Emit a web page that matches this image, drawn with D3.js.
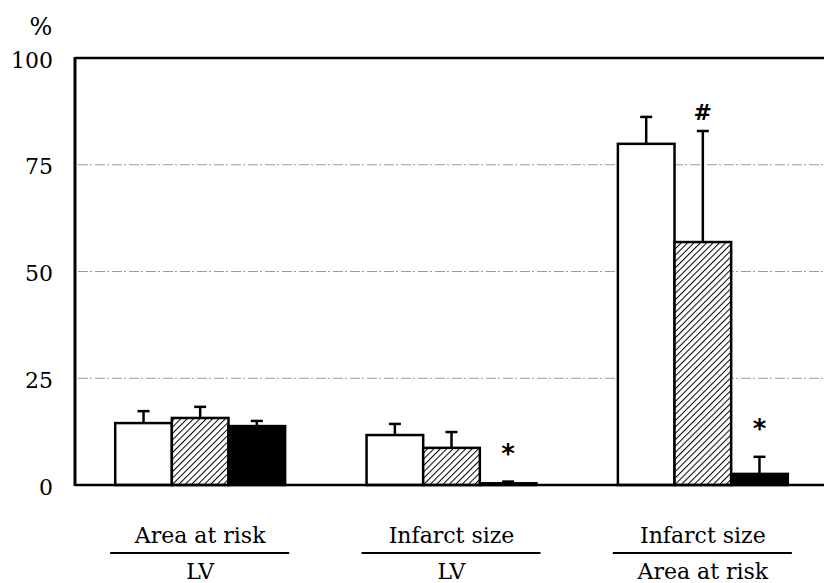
<!DOCTYPE html>
<html><head><meta charset="utf-8">
<script src="https://cdn.jsdelivr.net/npm/d3@7"></script>
<style>body{margin:0;background:#fff}svg{display:block}</style>
</head><body>
<svg id="c" width="824" height="583"></svg>
<script>
const groups = ["g1", "g2", "g3"];
const topLabels = ["Area at risk", "Infarct size", "Infarct size"];
const bottomLabels = ["LV", "LV", "Area at risk"];
const series = ["open", "hatched", "solid"];
const means = [[14.5, 15.7, 13.8], [11.7, 8.7, 0.4], [79.9, 56.9, 2.6]];
const errors = [[2.8, 2.6, 1.2], [2.6, 3.7, 0.4], [6.3, 26.0, 4.0]];
const marks = [["", "", ""], ["", "", "*"], ["", "#", "*"]];
const yTicks = [0, 25, 50, 75, 100];
const gridTicks = [25, 50, 75];

const svg = d3.select("#c");
const y = d3.scaleLinear().domain([0, 100]).range([485, 58]);
const x0 = d3.scaleBand().domain(groups).range([75, 828]).paddingInner(0.324).paddingOuter(0.16);
const x1 = d3.scaleBand().domain(series).range([0, x0.bandwidth()]);

const defs = svg.append("defs");
const pat = defs.append("pattern").attr("id", "hatch").attr("patternUnits", "userSpaceOnUse")
  .attr("width", 4.5).attr("height", 4.5).attr("patternTransform", "rotate(45)");
pat.append("rect").attr("width", 4.5).attr("height", 4.5).attr("fill", "#fff");
pat.append("line").attr("x1", 0).attr("y1", 0).attr("x2", 0).attr("y2", 4.5)
  .attr("stroke", "#000").attr("stroke-width", 2);

const fills = {open: "#fff", hatched: "url(#hatch)", solid: "#000"};
const serif = "DejaVu Serif, Liberation Serif, serif";

// gridlines
svg.append("g").selectAll("line").data(gridTicks).join("line")
  .attr("x1", 78).attr("x2", 824).attr("y1", d => y(d)).attr("y2", d => y(d))
  .attr("stroke", "#9a9a9a").attr("stroke-width", 1).attr("stroke-dasharray", "10 2 2 3");

// y axis
const yAxis = d3.axisLeft(y).tickValues(yTicks).tickSize(0).tickPadding(22);
const ga = svg.append("g").attr("transform", "translate(75,2)").call(yAxis);
ga.select(".domain").remove();
ga.selectAll("text").attr("font-family", serif).attr("font-size", 22).attr("fill", "#000");

svg.append("text").attr("x", 41).attr("y", 35).attr("text-anchor", "middle")
  .attr("font-family", serif).attr("font-size", 24).text("%");

// frame lines
svg.append("line").attr("x1", 75).attr("x2", 824).attr("y1", y(100)).attr("y2", y(100))
  .attr("stroke", "#000").attr("stroke-width", 2.5);
svg.append("line").attr("x1", 75).attr("x2", 75).attr("y1", y(100) - 1).attr("y2", y(0) + 1)
  .attr("stroke", "#000").attr("stroke-width", 3);

// bars
const gg = svg.append("g").selectAll("g").data(groups).join("g")
  .attr("transform", d => `translate(${x0(d)},0)`);
gg.each(function(g, gi) {
  const sel = d3.select(this);
  series.forEach((s, si) => {
    const v = means[gi][si], e = errors[gi][si];
    const cx = x1(s) + x1.bandwidth() / 2;
    sel.append("line").attr("x1", cx).attr("x2", cx).attr("y1", y(v)).attr("y2", y(v + e))
      .attr("stroke", "#000").attr("stroke-width", 2.5);
    sel.append("line").attr("x1", cx - 6).attr("x2", cx + 6).attr("y1", y(v + e)).attr("y2", y(v + e))
      .attr("stroke", "#000").attr("stroke-width", 2.5);
    sel.append("rect").attr("x", x1(s)).attr("width", x1.bandwidth())
      .attr("y", y(v)).attr("height", y(0) - y(v))
      .attr("fill", fills[s]).attr("stroke", "#000").attr("stroke-width", 2.5);
    const m = marks[gi][si];
    if (m) {
      sel.append("text").attr("x", cx).attr("y", y(v + e) - (m === "*" ? 19 : 11))
        .attr("text-anchor", "middle").attr("font-family", "DejaVu Sans, sans-serif")
        .attr("font-weight", "bold").attr("font-size", m === "*" ? 26 : 22).text(m);
    }
  });
});

// baseline
svg.append("line").attr("x1", 75).attr("x2", 824).attr("y1", y(0)).attr("y2", y(0))
  .attr("stroke", "#000").attr("stroke-width", 2.5);

// category labels
const lab = svg.append("g").selectAll("g").data(groups).join("g")
  .attr("transform", d => `translate(${x0(d) + x0.bandwidth() / 2},0)`);
lab.append("text").attr("y", 543).attr("text-anchor", "middle")
  .attr("font-family", serif).attr("font-size", 22).text((d, i) => topLabels[i]);
lab.append("line").attr("x1", -90).attr("x2", 89).attr("y1", 553).attr("y2", 553)
  .attr("stroke", "#000").attr("stroke-width", 2);
lab.append("text").attr("y", 579).attr("text-anchor", "middle")
  .attr("font-family", serif).attr("font-size", 22).text((d, i) => bottomLabels[i]);
</script>
</body></html>
